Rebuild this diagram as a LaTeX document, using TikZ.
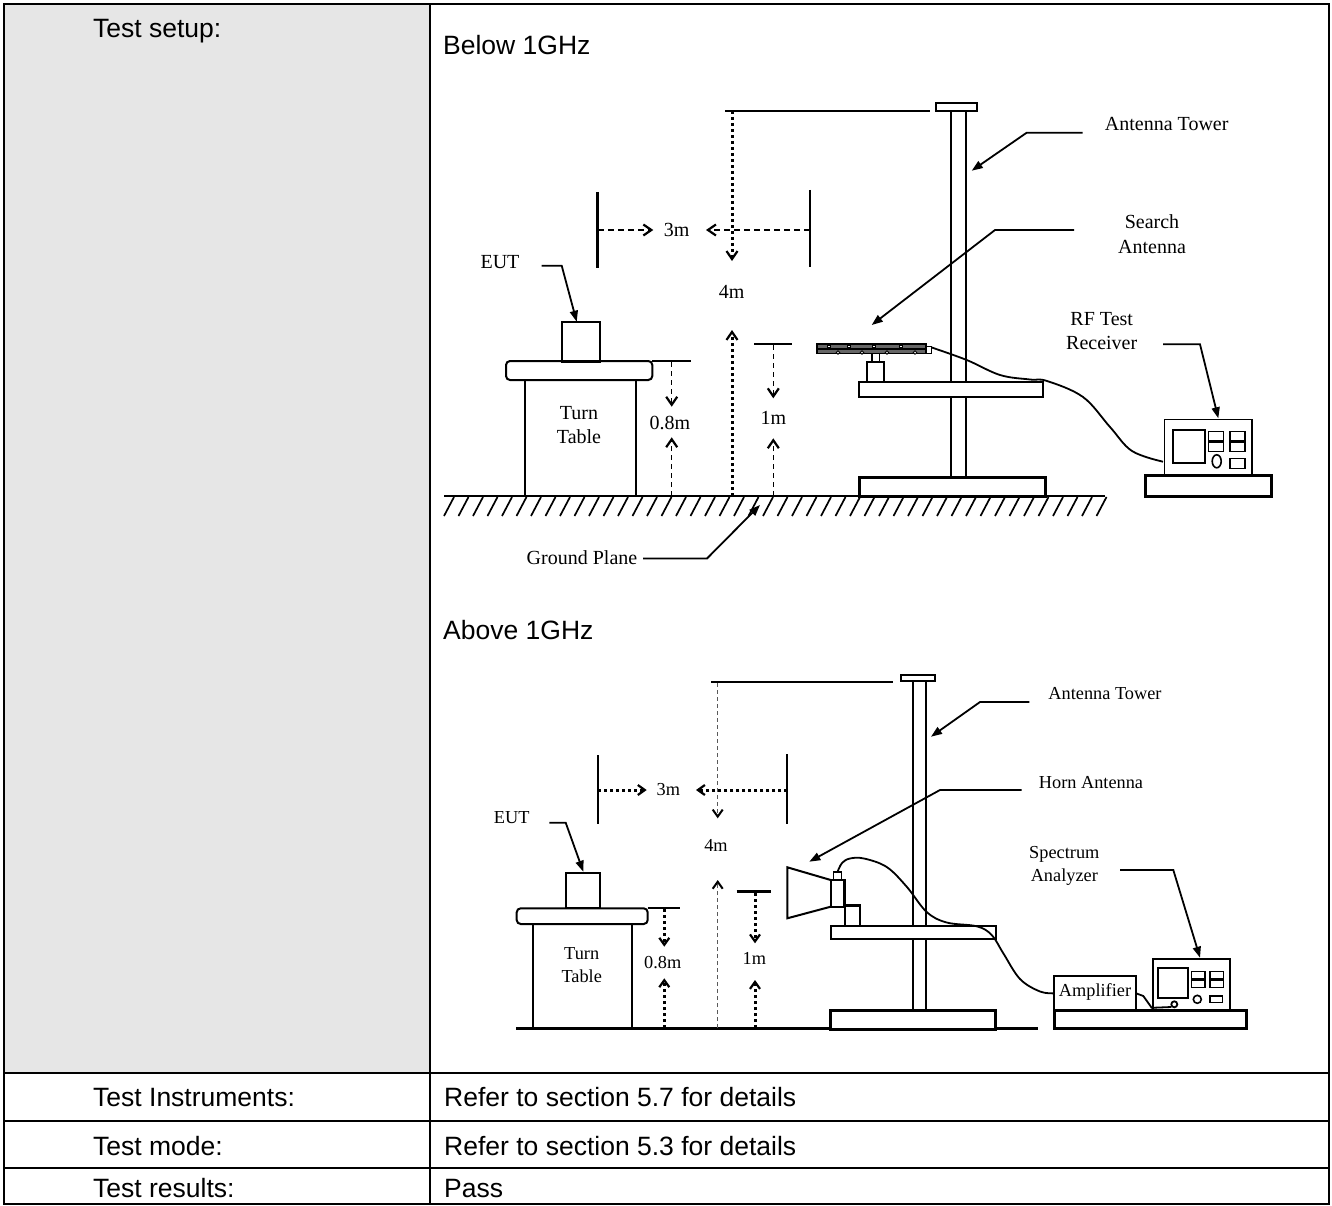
\documentclass[tikz,border=0pt]{standalone}
\usepackage{fontspec}
\setmainfont{Liberation Sans}
\newfontfamily\tmsfont{Liberation Serif}
\usetikzlibrary{arrows.meta}
\definecolor{cellgrey}{RGB}{230,230,230}
\begin{document}
\begin{tikzpicture}[x=1pt,y=-1pt,
  tbltext/.style={anchor=base west, inner sep=0pt, font=\fontsize{26.5}{30}\selectfont},
  lblA/.style={inner sep=0pt, align=center, font=\tmsfont\fontsize{20}{24.5}\selectfont},
  lblB/.style={inner sep=0pt, align=center, font=\tmsfont\fontsize{18.3}{23.5}\selectfont},
  thk/.style={line width=2pt},
  heavy/.style={line width=3pt},
  ldr/.style={line width=1.8pt, -{Triangle[length=11pt,width=8pt]}},
  darr/.style={-{Straight Barb[length=8pt,width=11pt,line width=2.2pt]}},
  dimfour/.style={line width=3pt, dash pattern=on 3pt off 3pt, darr},
  dimthree/.style={line width=2.5pt, dash pattern=on 6pt off 4pt, darr},
  dimsmall/.style={line width=1.5pt, dash pattern=on 5pt off 4pt, darr},
  bfour/.style={line width=1.3pt, black!65, dash pattern=on 4pt off 3pt, -{Straight Barb[length=7pt,width=10pt,line width=2pt,black]}},
  bdot/.style={line width=3pt, dash pattern=on 3pt off 3pt, -{Straight Barb[length=7pt,width=10pt,line width=2.2pt]}},
]
\useasboundingbox (0,0) rectangle (1332,1206);
% ---------- table ----------
\fill[cellgrey] (4,4) rectangle (430,1073);
\draw[thk] (4,4) rectangle (1329,1204);
\draw[thk] (430,4) -- (430,1204);
\draw[thk] (4,1073) -- (1329,1073);
\draw[thk] (4,1121) -- (1329,1121);
\draw[thk] (4,1168) -- (1329,1168);
\node[tbltext] (ts) at (93,38) {Test setup:};
\node[tbltext] (ti) at (93,1106.5) {Test Instruments:};
\node[tbltext] (tm) at (93,1155.5) {Test mode:};
\node[tbltext] (tr) at (93,1197.5) {Test results:};
\node[tbltext] (ri) at (444,1106.5) {Refer to section 5.7 for details};
\node[tbltext] (rm) at (444,1155.5) {Refer to section 5.3 for details};
\node[tbltext] (rr) at (444,1197.5) {Pass};
\node[tbltext] (below) at (443,54.5) {Below 1GHz};
\node[tbltext] (above) at (443,639.5) {Above 1GHz};

% ---------- top diagram (below 1 GHz) ----------
% ground plane
\draw[thk] (444,496) -- (1105,496);
\foreach \hx in {454,468.5,...,1110} { \draw[line width=1.7pt] (\hx,497) -- ++(-10,19); }
% turn table and EUT
\draw[thk] (525,380) -- (525,496);
\draw[thk] (636,380) -- (636,496);
\draw[thk, rounded corners=4pt, fill=white] (506,361) rectangle (652.3,380);
\draw[thk] (561.7,322.3) rectangle (600,361.7);
\node[lblA] (tt1) at (579,425) {Turn\\Table};
\node[lblA] (eut1) at (500,262) {EUT};
\draw[ldr] (541.7,265.7) -- (561.7,265.7) -- (576.7,321.7);
% 3m
\draw[line width=2.5pt] (597.7,192) -- (597.7,268);
\draw[line width=2.5pt] (810,190) -- (810,267);
\draw[dimthree] (598,230) -- (653.3,230);
\draw[dimthree] (810,230) -- (706,230);
\node[lblA] (d3a) at (676.7,230) {3m};
% 4m
\draw[thk] (725,111) -- (930,111);
\draw[dimfour] (732,111) -- (732,261);
\draw[dimfour] (732,496) -- (732,330);
\node[lblA] (d4a) at (731.7,292) {4m};
% 0.8m
\draw[line width=1.5pt] (652,361) -- (691,361);
\draw[dimsmall] (671.7,362) -- (671.7,406.7);
\draw[dimsmall] (671.7,496) -- (671.7,437.3);
\node[lblA] (d08a) at (670,423) {0.8m};
% 1m
\draw[line width=1.5pt] (754,344) -- (792.3,344);
\draw[dimsmall] (773.3,345) -- (773.3,398.3);
\draw[dimsmall] (773.3,496) -- (773.3,438.3);
\node[lblA] (d1a) at (773.3,418.3) {1m};
% antenna tower
\draw[thk] (936,103) rectangle (977,111);
\draw[thk] (951,111) rectangle (966,477);
\draw[thk, fill=white] (859.3,381.7) rectangle (1043.3,396.7);
\draw[heavy, fill=white] (859,477) rectangle (1045,496);
% search antenna
\draw[thk, fill=white] (866.7,361.7) rectangle (884,381.7);
\draw[line width=1.5pt] (872,353.5) -- (872,361.7);
\draw[line width=1.5pt] (879.5,353.5) -- (879.5,361.7);
\draw[line width=1.8pt, fill=black!60] (816.7,344) rectangle (926,353.5);
\draw[line width=1.2pt] (817,349) -- (926,349);
\foreach \sx in {829,849,874,901} { \draw[line width=0.8pt, fill=white] (\sx-1.5,345) rectangle (\sx+1.5,347.8); }
\foreach \sx in {838,862,887,915} { \draw[line width=0.8pt, fill=white] (\sx,352.5) circle (1.8); }
\draw[line width=1.3pt, fill=white] (926,346.7) rectangle (931.5,353.3);
% cable
\draw[line width=1.8pt] plot[smooth, tension=0.6] coordinates {(931.7,347.5) (966.7,360) (1000,375) (1030,379.5) (1047,381) (1083,397) (1110,427) (1132,451) (1163,461.7)};
% RF test receiver
\draw[line width=1.6pt, fill=white] (1164.3,419.3) rectangle (1251.7,475);
\draw[heavy, fill=white] (1145.5,475) rectangle (1271.7,496.5);
\draw[thk] (1172.7,430) rectangle (1205,462.7);
\foreach \bx in {1208.3,1230} {
  \draw[line width=1.5pt] (\bx,431.7) rectangle (\bx+15,451.7);
  \draw[line width=3pt] (\bx,441.7) -- (\bx+15,441.7);
}
\draw[line width=1.6pt] (1216.7,461.3) ellipse (4.5 and 6.5);
\draw[line width=1.5pt] (1230,458.3) rectangle (1245,468.3);
% labels and leaders
\node[lblA] (tow1) at (1166.7,124) {Antenna Tower};
\draw[ldr] (1082.7,132.7) -- (1026.7,132.7) -- (971.7,170.7);
\node[lblA] (sa) at (1152,234) {Search\\Antenna};
\draw[ldr] (1074,230) -- (995,230) -- (871.7,325);
\node[lblA] (rf) at (1101.7,331) {RF Test\\Receiver};
\draw[ldr] (1163,344.3) -- (1200,344.3) -- (1218.3,418.3);
\node[lblA] (gp) at (582,558) {Ground Plane};
\draw[ldr] (643,558.5) -- (707,558.5) -- (760,505);

% ---------- bottom diagram (above 1 GHz) ----------
\draw[line width=2.5pt] (516,1028.3) -- (1038,1028.3);
% turn table and EUT
\draw[thk] (533.3,924) -- (533.3,1028);
\draw[thk] (631.7,924) -- (631.7,1028);
\draw[thk, rounded corners=4pt, fill=white] (516.7,908.3) rectangle (647.7,924);
\draw[thk] (565.7,873.3) rectangle (600,908.3);
\node[lblB] (tt2) at (581.7,965) {Turn\\Table};
\node[lblB] (eut2) at (511.7,818) {EUT};
\draw[ldr] (549.3,822.7) -- (565.7,822.7) -- (583.3,871.7);
% 3m
\draw[thk] (597.7,755) -- (597.7,824);
\draw[thk] (787.3,754) -- (787.3,824);
\draw[bdot] (598,790) -- (646.7,790);
\draw[bdot] (787.3,790) -- (696,790);
\node[lblB] (d3b) at (668.3,790) {3m};
% 4m
\draw[thk] (711,682.3) -- (893.3,682.3);
\draw[bfour] (717.7,683) -- (717.7,818.3);
\draw[bfour] (717.7,1028) -- (717.7,880);
\node[lblB] (d4b) at (716,845) {4m};
% 0.8m
\draw[thk] (647.7,907.7) -- (680,907.7);
\draw[bdot] (664.3,909) -- (664.3,946.7);
\draw[bdot] (664.3,1028) -- (664.3,978.3);
\node[lblB] (d08b) at (662.7,963) {0.8m};
% 1m
\draw[line width=2.5pt] (736.7,891.7) -- (771,891.7);
\draw[bdot] (755,893) -- (755,943.3);
\draw[bdot] (755,1028) -- (755,980);
\node[lblB] (d1b) at (754.3,958.3) {1m};
% tower
\draw[thk] (900.7,675) rectangle (935.3,680.7);
\draw[thk] (913.3,680.7) rectangle (925.7,1010.7);
\draw[thk, fill=white] (830.7,925.7) rectangle (996,939.3);
\draw[heavy, fill=white] (830,1010.7) rectangle (995,1029.3);
% horn antenna
\draw[thk, fill=white] (845,905) rectangle (860,925.7);
\draw[line width=3.5pt] (845,905.5) -- (860,905.5);
\draw[thk, fill=white] (830.7,880) rectangle (845,906.7);
\draw[line width=3pt] (844.5,880) -- (844.5,906.7);
\draw[line width=1.5pt, fill=white] (833.3,872) rectangle (841.7,880);
\draw[thk, line join=miter] (830.7,880) -- (787.3,867.3) -- (787.3,918.3) -- (830.7,906.7);
% cable
\draw[line width=1.8pt] plot[smooth, tension=0.6] coordinates {(837.5,872) (842,863) (850,858.5) (864,858.5) (886.7,867) (906.7,886.7) (926.7,912) (946.7,922.5) (976.7,926.3) (991.7,935) (1003.3,953.3) (1020,979) (1040,991.5) (1054,993.3)};
% amplifier and analyzer
\draw[thk, fill=white] (1054,976) rectangle (1136,1010);
\node[lblB] (amp) at (1095,992) {Amplifier};
\draw[thk, fill=white] (1152.7,959.3) rectangle (1230,1010);
\draw[heavy, fill=white] (1054,1010) rectangle (1246.7,1028.3);
\draw[thk] (1158.3,968.3) rectangle (1188.3,998.3);
\foreach \bx in {1191.7,1210} {
  \draw[line width=1.5pt] (\bx,971.7) rectangle (\bx+13.3,987.3);
  \draw[line width=2.8pt] (\bx,979.5) -- (\bx+13.3,979.5);
}
\draw[line width=1.6pt] (1197.3,999.3) circle (4);
\draw[line width=1.5pt] (1210,996) rectangle (1222.7,1002.7);
\draw[line width=1.8pt] (1136,993.3) -- (1143.3,996) -- (1151.7,1007.8) -- (1171.3,1007);
\draw[line width=1.8pt, fill=white] (1174.3,1004.3) circle (3);
% labels and leaders
\node[lblB] (tow2) at (1105,694) {Antenna Tower};
\draw[ldr] (1029.3,702) -- (980,702) -- (931,736.7);
\node[lblB] (horn) at (1091,783) {Horn Antenna};
\draw[ldr] (1021.7,790) -- (940,790) -- (809.3,861.7);
\node[lblB] (spec) at (1064.3,866) {Spectrum\\Analyzer};
\draw[ldr] (1120,870) -- (1173.3,870) -- (1200,957.7);
\end{tikzpicture}
\end{document}
